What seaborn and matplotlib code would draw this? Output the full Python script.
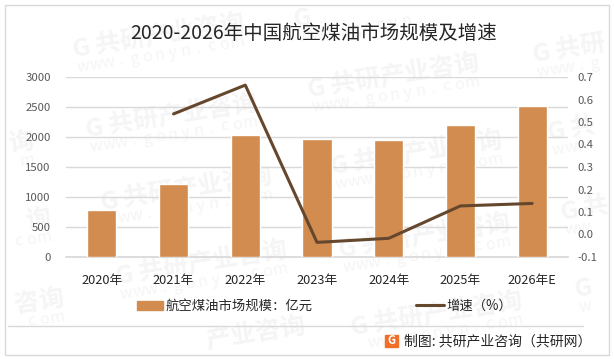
import matplotlib
matplotlib.use("Agg")
import matplotlib.pyplot as plt
from matplotlib.lines import Line2D
from matplotlib.patches import Patch, Rectangle
import numpy as np
import pandas as pd
import seaborn as sns

years = ["2020年", "2021年", "2022年", "2023年", "2024年", "2025年", "2026年E"]
market_size = [783, 1217, 2033, 1967, 1950, 2200, 2517]
growth = [np.nan, 0.536, 0.664, -0.035, -0.017, 0.127, 0.138]
left_ticks = [0, 500, 1000, 1500, 2000, 2500, 3000]
right_ticks = [-0.1, 0.0, 0.1, 0.2, 0.3, 0.4, 0.5, 0.6, 0.7]

BAR = "#D38C4F"
LINE = "#65472D"
WM = "#F5F5F5"
W, H = 614, 359

sns.set_theme(style="white")
plt.rcParams["font.family"] = ["Noto Sans CJK SC", "DejaVu Sans"]

df = pd.DataFrame({"year": years, "size": market_size, "growth": growth})

fig = plt.figure(figsize=(W / 100, H / 100), dpi=100)
ax = fig.add_axes([66 / W, 1 - 257 / H, (568 - 66) / W, 180 / H])
ax.set_zorder(2)
ax.patch.set_alpha(0)

sns.barplot(data=df, x="year", y="size", color=BAR, saturation=1, width=0.405,
            ax=ax, zorder=3)
ax.set_xlim(-0.5, 6.5)
ax.set_ylim(0, 3000)
ax.set_yticks(left_ticks)
ax.set_xlabel("")
ax.set_ylabel("")
ax.grid(axis="y", color="#D9D9D9", lw=1)
ax.set_axisbelow(True)
ax.tick_params(axis="y", length=0, labelsize=8.2, labelcolor="#595959", pad=11)
ax.tick_params(axis="x", length=0, labelsize=9.2, labelcolor="#262626", pad=12)
sns.despine(ax=ax, left=True, right=True, top=True, bottom=False)
ax.spines["bottom"].set_color("#D9D9D9")

ax2 = ax.twinx()
sns.pointplot(data=df, x="year", y="growth", color=LINE, marker="", errorbar=None,
              linewidth=2.2, ax=ax2)
ax2.set_xlim(-0.5, 6.5)
ax2.set_ylim(-0.1, 0.7)
ax2.set_yticks(right_ticks)
ax2.set_yticklabels([f"{t:.1f}" for t in right_ticks])
ax2.set_xlabel("")
ax2.set_ylabel("")
ax2.grid(False)
ax2.tick_params(axis="y", length=0, labelsize=8.2, labelcolor="#595959", pad=7)
for s in ax2.spines.values():
    s.set_visible(False)

fig.text(314 / W, 1 - 33 / H, "2020-2026年中国航空煤油市场规模及增速", ha="center", va="center",
         fontsize=14, color="#262626")

# legend
handles = [Patch(color=BAR), Line2D([0], [0], color=LINE, lw=2.2)]
fig.legend(handles[:1], ["航空煤油市场规模：亿元"], loc="center left",
           bbox_to_anchor=(137 / W, 1 - 306 / H), frameon=False, fontsize=9.6,
           labelcolor="#262626", handlelength=1.95, handleheight=0.6, handletextpad=0.2,
           borderpad=0, borderaxespad=0)
fig.legend(handles[1:], ["增速（%）"], loc="center left",
           bbox_to_anchor=(416 / W, 1 - 306 / H), frameon=False, fontsize=9.6,
           labelcolor="#262626", handlelength=2.1, handletextpad=0.15,
           borderpad=0, borderaxespad=0)

# footer rule, frame, source
fig.add_artist(Line2D([8 / W, 583 / W], [1 - 325.5 / H] * 2, color="#D9D9D9", lw=1))
fig.add_artist(Rectangle((4.5 / W, 1 - 354.5 / H), 604.5 / W, 349.5 / H, fill=False,
                         edgecolor="#D9D9D9", lw=1, transform=fig.transFigure))
fig.add_artist(Rectangle((385.5 / W, 1 - 347 / H), 12.5 / W, 12.5 / H, color="#F0702A",
                         transform=fig.transFigure))
fig.text(391.7 / W, 1 - 340.7 / H, "G", ha="center", va="center", fontsize=8,
         fontweight="bold", color="white")
fig.text(404 / W, 1 - 341.5 / H, "制图: 共研产业咨询（共研网）", ha="left", va="center",
         fontsize=10, color="#262626")

# watermarks, glyph by glyph so the ones past the edge are just left out
marks = [(-150, 88), (-138, 168), (-121, 245), (-108, 325),
         (72, 50), (85, 130), (100, 203), (115, 277), (133, 353),
         (293, 20), (307, 90), (330, 167), (338, 250), (350, 328),
         (532, 55), (547, 133), (560, 213), (574, 290)]
cs, sn = np.cos(np.radians(9)), np.sin(np.radians(9))


def glyph(x, y, s, size, weight):
    if 18 < x < W - 18 and 18 < y < H - 16:
        fig.text(x / W, 1 - y / H, s, fontsize=size, fontweight=weight, color=WM, rotation=9,
                 ha="center", va="center", zorder=0)


for x, y in marks:
    for i, s in enumerate("G共研产业咨询"):
        d = 9 if i == 0 else 36 + 25 * (i - 1)
        glyph(x + d * cs, y - d * sn, s, 18, "bold")
    for i, s in enumerate("www.gonyn.com"):
        d = 8 + 13 * i
        glyph(x + 3 + d * cs, y + 18 - d * sn, s, 11.5, "normal")

fig.savefig("out.png", dpi=100, facecolor="white")
